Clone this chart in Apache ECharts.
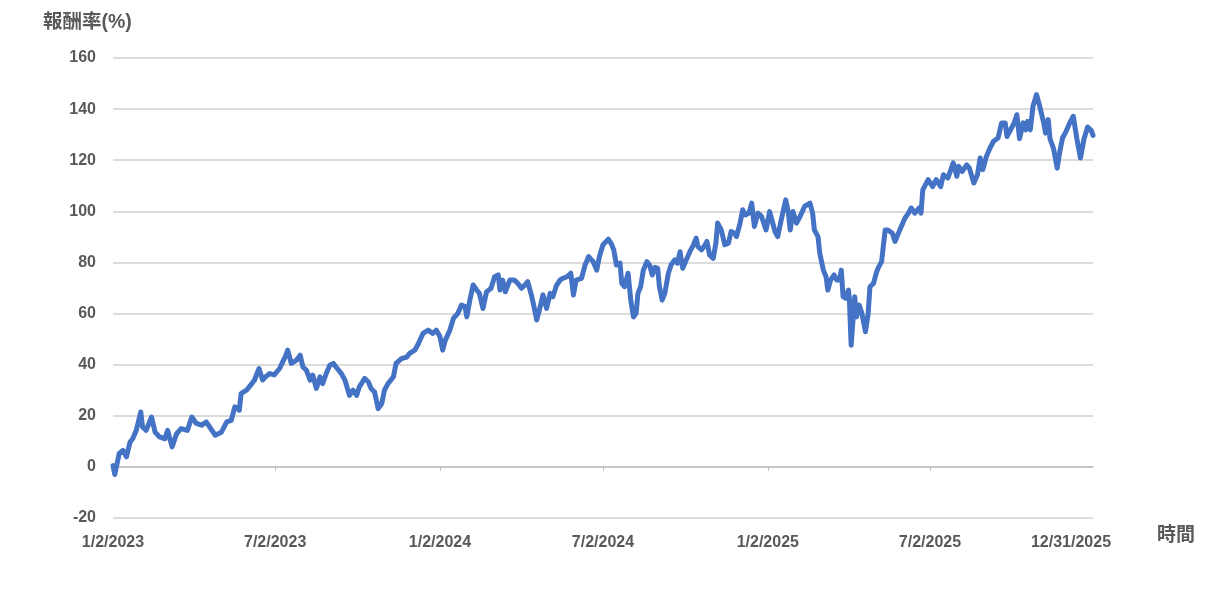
<!DOCTYPE html>
<html><head><meta charset="utf-8">
<script src="https://cdn.jsdelivr.net/npm/echarts@6/dist/echarts.min.js"></script>
<style>html,body{margin:0;padding:0;background:#fff}#c{width:1223px;height:593px}</style>
</head><body><div id="c"></div>
<script>
// ---- data ----
const startDate = [2023, 0, 2];           // 1/2/2023 (day 0)
const dayOffsets = [0,2,7,11,15,19,22,26,31,33,37,43,47,52,58,61,66,71,76,83,88,93,99,104,108,114,121,127,132,136,141,143,149,155,158,163,167,171,175,180,186,190,193,195,199,205,209,212,216,220,223,227,231,234,238,242,246,249,255,259,264,268,272,275,281,285,288,292,296,300,303,307,313,316,322,328,331,337,341,346,352,357,361,365,368,371,376,380,385,389,393,395,398,402,406,409,413,417,422,426,430,432,435,438,443,448,452,456,460,463,467,470,473,476,480,484,488,491,495,499,502,507,511,514,517,523,527,531,536,540,543,547,553,556,559,562,566,568,571,575,578,581,584,586,589,592,596,599,602,605,608,610,613,616,620,623,627,630,633,636,640,644,648,651,653,657,661,663,666,670,673,675,679,683,687,690,694,696,700,703,706,710,713,716,720,724,729,733,739,742,746,751,754,756,759,763,767,772,778,781,783,787,789,793,795,796,798,801,805,808,811,813,815,818,821,822,824,826,828,830,833,836,840,843,845,849,852,854,858,862,865,870,873,876,880,884,888,891,895,900,902,904,910,915,919,924,927,932,938,942,944,948,953,956,961,965,968,971,975,979,983,988,992,996,998,1002,1006,1009,1012,1016,1019,1021,1024,1027,1031,1034,1036,1039,1041,1044,1046,1050,1054,1057,1060,1064,1068,1072,1076,1080,1084,1088,1092,1094];
const returns = [0.5,-3,5.3,6.5,3.9,9.7,11,14.3,21.5,15.6,14.3,19.5,13.6,11.7,11,14.3,7.8,13,15,14.3,19.5,17,16.3,17.6,15.6,12.4,13.6,17.6,18.2,23.5,22.2,28.7,30,32.6,34,38.5,34,35.5,36.5,36,38.5,41.5,43.7,45.7,40.5,41.8,43.7,39.1,37.8,33.9,35.9,30.7,35.2,32.6,36.5,39.8,40.5,39.1,36.5,33.9,28,30,28,31.3,34.6,33.3,30.7,29.3,22.8,24.8,30,32.6,35.2,40.5,42.4,43,44.4,45.7,48.3,52.2,53.5,52.2,53.5,51,45.7,49.6,53.5,58.1,60.1,63.3,62.7,58.7,64.6,71.2,69.2,67.9,62,68.5,69.9,74.4,75.1,69.2,73.1,68.5,73.1,73.1,71.8,69.9,71.2,72.5,67.3,62.7,57.5,61.4,67.3,62,67.9,66.6,70.9,73.1,73.8,74.4,75.8,67.3,73.1,73.8,79,82.3,80.3,77,82.3,86.9,89.1,87.5,84.9,79,79.7,71.8,70.5,75.8,65.3,58.7,60.1,67.9,70.5,77,80.3,79,75.1,78.1,77.7,70.5,65.3,67.9,75.8,79,81,79.7,84.2,77.7,81,84.2,86.9,89.5,86.2,84.9,86.9,88.2,82.9,81.6,87.5,95.4,92.7,86.9,87.5,92.1,91.4,90.1,95.4,100.6,98.6,99.3,103.2,94.1,99.3,98,92.7,99.9,92.1,90.1,96.7,104.5,99.3,92.7,99.9,95.4,98,101.9,103.2,99.3,92.7,90.1,83.6,77,77.7,74.4,69.2,73.1,75.1,73.1,73.1,77,66.6,66,69.2,66,47.6,47.5,66.6,58.7,63.3,60,52.9,60.1,70.5,71.8,75.8,77.7,80.3,92.7,92.7,91.4,88.2,90.8,94.1,97.3,99.3,101.3,99.3,101.3,99.3,108.4,112.4,109.7,112.4,109.7,114.3,113,119,113.7,117.6,115.6,118.2,116.9,111.1,114.3,120.9,116.3,121.5,124.8,127.4,128.7,134.6,134.6,129.3,131.9,134.6,137.8,128.4,134.6,131.9,135.2,131.9,141.1,145.7,141.8,142.4,134.6,130.6,135.9,128.4,124.5,116.9,123.5,128.7,131.3,134.6,137.2,128.4,120.9,128.4,133,131.7,129.7];
const labelDates = [[2023,0,2],[2023,6,2],[2024,0,2],[2024,6,2],[2025,0,2],[2025,6,2],[2025,11,31]];
const tickDates = [[2023,6,2],[2024,0,2],[2024,6,2],[2025,0,2],[2025,6,2]];
const endDate = [2025, 11, 31];
const yMin = -20, yMax = 160, yStep = 20;
const yTitle = '報酬率(%)';
const xTitle = '時間';

// ---- build ----
const DAY = 86400000;
const utc = (a) => Date.UTC(a[0], a[1], a[2]);
const toDay = (a) => Math.round((utc(a) - utc(startDate)) / DAY);
const seriesData = dayOffsets.map((d, i) => [d, returns[i]]);
const xMax = toDay(endDate);
const fmt = (v) => { const d = new Date(utc(startDate) + Math.round(v) * DAY); return (d.getUTCMonth() + 1) + '/' + d.getUTCDate() + '/' + d.getUTCFullYear(); };
const FONT = '"Liberation Sans", Arial, "Noto Sans CJK TC", sans-serif';
const GREY = '#595959';

const chart = echarts.init(document.getElementById('c'), null, { renderer: 'canvas' });
chart.setOption({
  animation: false,
  backgroundColor: '#fff',
  grid: { left: 113, right: 130, top: 58, bottom: 75, containLabel: false },
  xAxis: [
    {
      type: 'value', min: 0, max: xMax, position: 'bottom',
      axisLine: { show: false, onZero: false },
      axisTick: { show: false },
      splitLine: { show: false },
      axisLabel: {
        customValues: labelDates.map(toDay),
        showMinLabel: true, showMaxLabel: true,
        margin: 17,
        color: GREY, fontSize: 16, fontWeight: 'bold', fontFamily: FONT,
        formatter: (v) => v >= xMax ? '{last|' + fmt(v) + '}' : fmt(v),
        rich: { last: { color: GREY, fontSize: 16, fontWeight: 'bold', fontFamily: FONT, padding: [0, 44, 0, 0] } }
      }
    },
    {
      type: 'value', min: 0, max: xMax, position: 'bottom',
      axisLine: { show: true, onZero: true, lineStyle: { color: '#bfbfbf', width: 1.5 } },
      axisTick: { show: true, customValues: tickDates.map(toDay), length: 4, lineStyle: { color: '#bfbfbf', width: 1 } },
      axisLabel: { show: false },
      splitLine: { show: false }
    }
  ],
  yAxis: {
    type: 'value', min: yMin, max: yMax, interval: yStep,
    axisLine: { show: false }, axisTick: { show: false },
    splitLine: { lineStyle: { color: '#d0d0d0', width: 1.5 } },
    axisLabel: { margin: 17, color: GREY, fontSize: 16, fontWeight: 'bold', fontFamily: FONT }
  },
  graphic: [
    { type: 'text', left: 43, top: 13, style: { text: yTitle, fill: GREY, font: 'bold 19.5px ' + FONT } },
    { type: 'text', left: 1157, top: 526, style: { text: xTitle, fill: GREY, font: 'bold 19px ' + FONT } }
  ],
  series: [{
    type: 'line', xAxisIndex: 0, data: seriesData, showSymbol: false, smooth: false,
    lineStyle: { color: '#4472C4', width: 5, join: 'round', cap: 'round' },
    itemStyle: { color: '#4472C4' }
  }]
});
</script>
</body></html>
